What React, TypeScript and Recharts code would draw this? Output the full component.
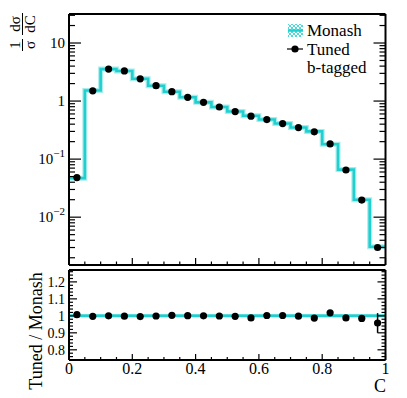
import React from 'react';
import { ComposedChart, Line, Scatter, XAxis, YAxis, ReferenceLine, ErrorBar } from 'recharts';

// bin edges and centres in C
const binEdges = [0, 0.05, 0.1, 0.15, 0.2, 0.25, 0.3, 0.35, 0.4, 0.45, 0.5, 0.55, 0.6, 0.65, 0.7, 0.75, 0.8, 0.85, 0.9, 0.95, 1];
const binCenters = [0.025, 0.075, 0.125, 0.175, 0.225, 0.275, 0.325, 0.375, 0.425, 0.475, 0.525, 0.575, 0.625, 0.675, 0.725, 0.775, 0.825, 0.875, 0.925, 0.975];

// 1/sigma dsigma/dC
const monash = [0.047, 1.52, 3.55, 3.3, 2.43, 1.84, 1.45, 1.16, 0.95, 0.79, 0.66, 0.56, 0.48, 0.41, 0.35, 0.3, 0.18, 0.066, 0.02, 0.0031];
const tuned = [0.048, 1.5, 3.55, 3.3, 2.42, 1.84, 1.45, 1.16, 0.95, 0.79, 0.66, 0.55, 0.48, 0.41, 0.35, 0.295, 0.183, 0.065, 0.0197, 0.003];

// Tuned / Monash
const ratio = [1.007, 0.997, 1.0, 0.998, 0.996, 0.999, 1.003, 1.001, 1.0, 0.999, 0.997, 0.988, 1.002, 1.002, 0.998, 0.987, 1.018, 0.988, 0.985, 0.958];
const ratioErr = [0.004, 0.002, 0.002, 0.002, 0.002, 0.002, 0.002, 0.002, 0.002, 0.002, 0.002, 0.003, 0.003, 0.003, 0.003, 0.004, 0.005, 0.008, 0.016, 0.058];

// axis ticks
const logMajor = [10, 1, 0.1, 0.01];
const logBase = ['10', '1', '10', '10'];
const logExp = ['', '', '\u22121', '\u22122'];
const xMajor = [0, 0.2, 0.4, 0.6, 0.8, 1];
const xLabels = ['0', '0.2', '0.4', '0.6', '0.8', '1'];
const ratioMajor = [1.2, 1.1, 1, 0.9, 0.8];
const ratioLabels = ['1.2', '1.1', '1', '0.9', '0.8'];

const CYAN = '#22cfcf';
const FONT = "'Liberation Serif', 'DejaVu Serif', serif";
const LOG_DOMAIN: [number, number] = [0.0015, 31.6];
const RATIO_DOMAIN: [number, number] = [0.74, 1.27];

const stepData = binEdges.map((x, i) => ({ x, y: monash[Math.min(i, monash.length - 1)] }));
const tunedPts = binCenters.map((x, i) => ({ x, y: tuned[i] }));
const ratioPts = binCenters.map((x, i) => ({ x, y: ratio[i], e: ratioErr[i] }));

const xTicks = binEdges;
const logTicks: number[] = [];
[0.001, 0.01, 0.1, 1, 10].forEach((d) => {
  for (let m = 1; m <= 9; m++) {
    const v = +(d * m).toPrecision(3);
    if (v >= LOG_DOMAIN[0] && v <= LOG_DOMAIN[1]) logTicks.push(v);
  }
});
const ratioTicks: number[] = [];
for (let v = 74; v <= 126; v += 2) ratioTicks.push(v / 100);

const near = (list: number[], v: number) => list.findIndex((m) => Math.abs(m - v) < 1e-9);
const txt = { fontFamily: FONT };

function yTick(side: 'left' | 'right', majors: number[], majLen: number, minLen: number, label?: (i: number, x: number, y: number) => React.ReactNode) {
  return (props: any) => {
    const { x, y, payload } = props;
    const i = near(majors, payload.value);
    const len = i >= 0 ? majLen : minLen;
    const dir = side === 'left' ? 1 : -1;
    return (
      <g>
        <line x1={x} x2={x + dir * len} y1={y} y2={y} stroke="#000" strokeWidth={1.2} />
        {label && i >= 0 ? label(i, x, y) : null}
      </g>
    );
  };
}

function xTick(side: 'top' | 'bottom', majLen: number, minLen: number, withLabels = false) {
  return (props: any) => {
    const { x, y, payload } = props;
    const i = near(xMajor, payload.value);
    const len = i >= 0 ? majLen : minLen;
    const dir = side === 'bottom' ? -1 : 1;
    return (
      <g>
        <line x1={x} x2={x} y1={y} y2={y + dir * len} stroke="#000" strokeWidth={1.2} />
        {withLabels && i >= 0 ? (
          <text x={x} y={y + 14} textAnchor="middle" fontSize={16} style={txt} fill="#000">
            {xLabels[i]}
          </text>
        ) : null}
      </g>
    );
  };
}

const logLabel = (i: number, x: number, y: number) => (
  <text x={x - 4} y={y + 5} textAnchor="end" fontSize={15} style={txt} fill="#000">
    {logBase[i]}
    {logExp[i] ? (
      <tspan dy={-7} fontSize={11}>
        {logExp[i]}
      </tspan>
    ) : null}
  </text>
);

const ratioLabel = (i: number, x: number, y: number) => (
  <text x={x - 4} y={y + 5} textAnchor="end" fontSize={14} style={txt} fill="#000">
    {ratioLabels[i]}
  </text>
);

const Dot = (props: any) => <circle cx={props.cx} cy={props.cy} r={3.6} fill="#000" />;

const frame = { stroke: '#000', strokeWidth: 2 };

export default function App() {
  return (
    <div style={{ position: 'absolute', left: 0, top: 0, width: 407, height: 398, background: '#fff', fontFamily: FONT }}>
      <div style={{ position: 'absolute', left: 0, top: 0 }}>
        <ComposedChart width={407} height={267} margin={{ top: 0, right: 0, bottom: 0, left: 0 }}>
          <defs>
            <pattern id="hatch" width="4" height="4" patternUnits="userSpaceOnUse">
              <path d="M0,0 L4,4 M4,0 L0,4" stroke={CYAN} strokeWidth={0.8} />
            </pattern>
          </defs>
          <XAxis xAxisId="b" dataKey="x" type="number" domain={[0, 1]} allowDataOverflow orientation="bottom" height={2}
            ticks={xTicks} interval={0} tickSize={0} tickMargin={0} axisLine={frame} tickLine={false} tick={xTick('bottom', 7, 3.5)} />
          <XAxis xAxisId="t" type="number" domain={[0, 1]} allowDataOverflow orientation="top" height={14}
            ticks={xTicks} interval={0} tickSize={0} tickMargin={0} axisLine={frame} tickLine={false} tick={xTick('top', 7, 3.5)} />
          <YAxis yAxisId="l" dataKey="y" scale="log" type="number" domain={LOG_DOMAIN} allowDataOverflow width={69}
            ticks={logTicks} interval={0} tickSize={0} tickMargin={0} axisLine={frame} tickLine={false} tick={yTick('left', logMajor, 12, 6, logLabel)} />
          <YAxis yAxisId="r" orientation="right" scale="log" type="number" domain={LOG_DOMAIN} allowDataOverflow width={21.5}
            ticks={logTicks} interval={0} tickSize={0} tickMargin={0} axisLine={frame} tickLine={false} tick={yTick('right', logMajor, 12, 6)} />
          <Line xAxisId="b" yAxisId="l" data={stepData} dataKey="y" type="stepAfter" stroke="#a8ecec" strokeWidth={5} dot={false} isAnimationActive={false} />
          <Line xAxisId="b" yAxisId="l" data={stepData} dataKey="y" type="stepAfter" stroke={CYAN} strokeWidth={2.6} dot={false} isAnimationActive={false} />
          <Scatter xAxisId="b" yAxisId="l" data={tunedPts} dataKey="y" shape={Dot} isAnimationActive={false} />

          <g fill="#000" style={txt}>
            <g transform="translate(22.5,0) rotate(-90)">
              <text x={-45} y={-3} textAnchor="middle" fontSize={15} style={txt}>1</text>
              <line x1={-51} x2={-39} y1={0} y2={0} stroke="#000" strokeWidth={1} />
              <text x={-45} y={12} textAnchor="middle" fontSize={15} style={txt}>σ</text>
              <text x={-24} y={-3} textAnchor="middle" fontSize={15} style={txt}>dσ</text>
              <line x1={-35} x2={-13} y1={0} y2={0} stroke="#000" strokeWidth={1} />
              <text x={-24} y={12} textAnchor="middle" fontSize={15} style={txt}>dC</text>
            </g>
            <rect x={288} y={24} width={15} height={13} fill="url(#hatch)" />
            <line x1={288} x2={303} y1={30.5} y2={30.5} stroke={CYAN} strokeWidth={2.5} />
            <text x={307} y={36} fontSize={17} style={txt}>Monash</text>
            <line x1={287} x2={303} y1={49} y2={49} stroke="#000" strokeWidth={1.2} />
            <circle cx={295} cy={49} r={3.6} fill="#000" />
            <text x={307} y={55} fontSize={17} style={txt}>Tuned</text>
            <text x={307} y={73} fontSize={17} style={txt}>b-tagged</text>
          </g>
        </ComposedChart>
      </div>
      <div style={{ position: 'absolute', left: 0, top: 267 }}>
        <ComposedChart width={407} height={131} margin={{ top: 0, right: 0, bottom: 0, left: 0 }}>
          <XAxis xAxisId="b" dataKey="x" type="number" domain={[0, 1]} allowDataOverflow orientation="bottom" height={38}
            ticks={xTicks} interval={0} tickSize={0} tickMargin={0} axisLine={frame} tickLine={false} tick={xTick('bottom', 6, 3, true)} />
          <XAxis xAxisId="t" type="number" domain={[0, 1]} allowDataOverflow orientation="top" height={3}
            ticks={xTicks} interval={0} tickSize={0} tickMargin={0} axisLine={frame} tickLine={false} tick={xTick('top', 6, 3)} />
          <YAxis yAxisId="l" dataKey="y" type="number" domain={RATIO_DOMAIN} allowDataOverflow width={69}
            ticks={ratioTicks} interval={0} tickSize={0} tickMargin={0} axisLine={frame} tickLine={false} tick={yTick('left', ratioMajor, 8, 4, ratioLabel)} />
          <YAxis yAxisId="r" orientation="right" type="number" domain={RATIO_DOMAIN} allowDataOverflow width={21.5}
            ticks={ratioTicks} interval={0} tickSize={0} tickMargin={0} axisLine={frame} tickLine={false} tick={yTick('right', ratioMajor, 8, 4)} />
          <ReferenceLine xAxisId="b" yAxisId="l" y={1} stroke={CYAN} strokeWidth={3} />
          <Scatter xAxisId="b" yAxisId="l" data={ratioPts} dataKey="y" shape={Dot} isAnimationActive={false}>
            <ErrorBar dataKey="e" direction="y" width={0} stroke="#000" strokeWidth={1.5} />
          </Scatter>
          <g fill="#000" style={txt}>
            <text x={42} y={64} textAnchor="middle" fontSize={18} style={txt} transform="rotate(-90 42 64)">Tuned / Monash</text>
            <text x={386} y={125} textAnchor="end" fontSize={18} style={txt}>C</text>
          </g>
        </ComposedChart>
      </div>
    </div>
  );
}
